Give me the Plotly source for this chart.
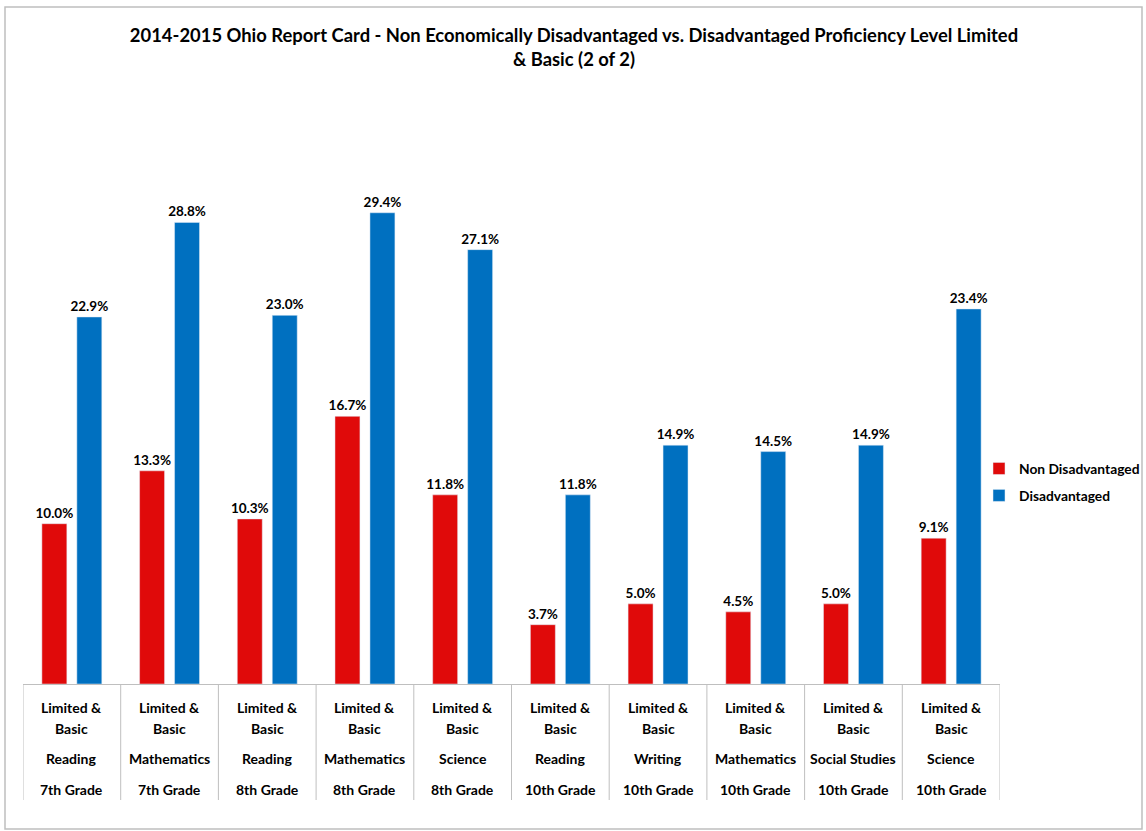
import plotly.graph_objects as go

subjects = ["Reading", "Mathematics", "Reading", "Mathematics", "Science",
            "Reading", "Writing", "Mathematics", "Social Studies", "Science"]
grades = ["7th Grade", "7th Grade", "8th Grade", "8th Grade", "8th Grade",
          "10th Grade", "10th Grade", "10th Grade", "10th Grade", "10th Grade"]
non_disadv = [10.0, 13.3, 10.3, 16.7, 11.8, 3.7, 5.0, 4.5, 5.0, 9.1]
disadv = [22.9, 28.8, 23.0, 29.4, 27.1, 11.8, 14.9, 14.5, 14.9, 23.4]

cats = [f"{s} {g}" for s, g in zip(subjects, grades)]
FONT = "Lato"

fig = go.Figure()
fig.add_trace(go.Bar(x=cats, y=non_disadv, name="<b>Non Disadvantaged</b>",
                     marker_color="#E00A0A", legendgroup="a",
                     text=[f"<b>{v:.1f}%</b>" for v in non_disadv], textposition="outside",
                     constraintext="none",
                     textfont=dict(size=13.5, color="black", family=FONT), cliponaxis=False))
fig.add_trace(go.Bar(x=cats, y=disadv, name="<b>Disadvantaged</b>",
                     marker_color="#0070C0", legendgroup="b",
                     text=[f"<b>{v:.1f}%</b>" for v in disadv], textposition="outside",
                     constraintext="none",
                     textfont=dict(size=13.5, color="black", family=FONT), cliponaxis=False))

L, R, T, B = 23, 1000, 123, 684
W, H = 1146, 831
pw, ph = R - L, B - T

def py(y):
    return (B - y) / ph

def px(x):
    return (x - L) / pw

annotations = []
shapes = []
for i, (s, g) in enumerate(zip(subjects, grades)):
    for txt, yy in [("Limited &", 707), ("Basic", 728), (s, 758), (g, 789)]:
        annotations.append(dict(x=i, y=py(yy), xref="x", yref="paper", text="<b>" + txt + "</b>",
                                showarrow=False, font=dict(size=14, family=FONT, color="black"),
                                xanchor="center", yanchor="middle"))
for i in range(len(cats) + 1):
    shapes.append(dict(type="line", xref="x", yref="paper", x0=i - 0.5, x1=i - 0.5,
                       y0=0, y1=py(800), line=dict(color="#BFBFBF", width=1)))
shapes.append(dict(type="rect", xref="paper", yref="paper", x0=px(5), x1=px(1142),
                   y0=py(829), y1=py(7), line=dict(color="#BFBFBF", width=1.5),
                   fillcolor="rgba(0,0,0,0)", layer="below"))

fig.update_layout(
    width=W, height=H,
    margin=dict(l=L, r=W - R, t=T, b=H - B, autoexpand=False),
    paper_bgcolor="white", plot_bgcolor="white",
    title=dict(text="<b>2014-2015 Ohio Report Card - Non Economically Disadvantaged vs. Disadvantaged Proficiency Level Limited<br>&amp; Basic (2 of 2)</b>",
               x=574 / W, xanchor="center", y=1 - 42 / H, yanchor="top",
               font=dict(size=18.4, family=FONT, color="black")),
    barmode="group", bargap=0.284, bargroupgap=0.286,
    xaxis=dict(showticklabels=False, showline=True, linecolor="#BFBFBF", linewidth=1,
               ticks="", showgrid=False, range=[-0.5, 9.5]),
    yaxis=dict(range=[0, 35], visible=False, showgrid=False),
    legend=dict(x=px(979), y=py(453), xanchor="left", yanchor="top",
                font=dict(size=13.8, family=FONT, color="black"), itemwidth=30,
                tracegroupgap=6, bgcolor="rgba(0,0,0,0)"),
    annotations=annotations, shapes=shapes, showlegend=True,
)
fig.write_html("out.html", config={"displayModeBar": False},
               post_script="document.body.style.margin='0px';")
